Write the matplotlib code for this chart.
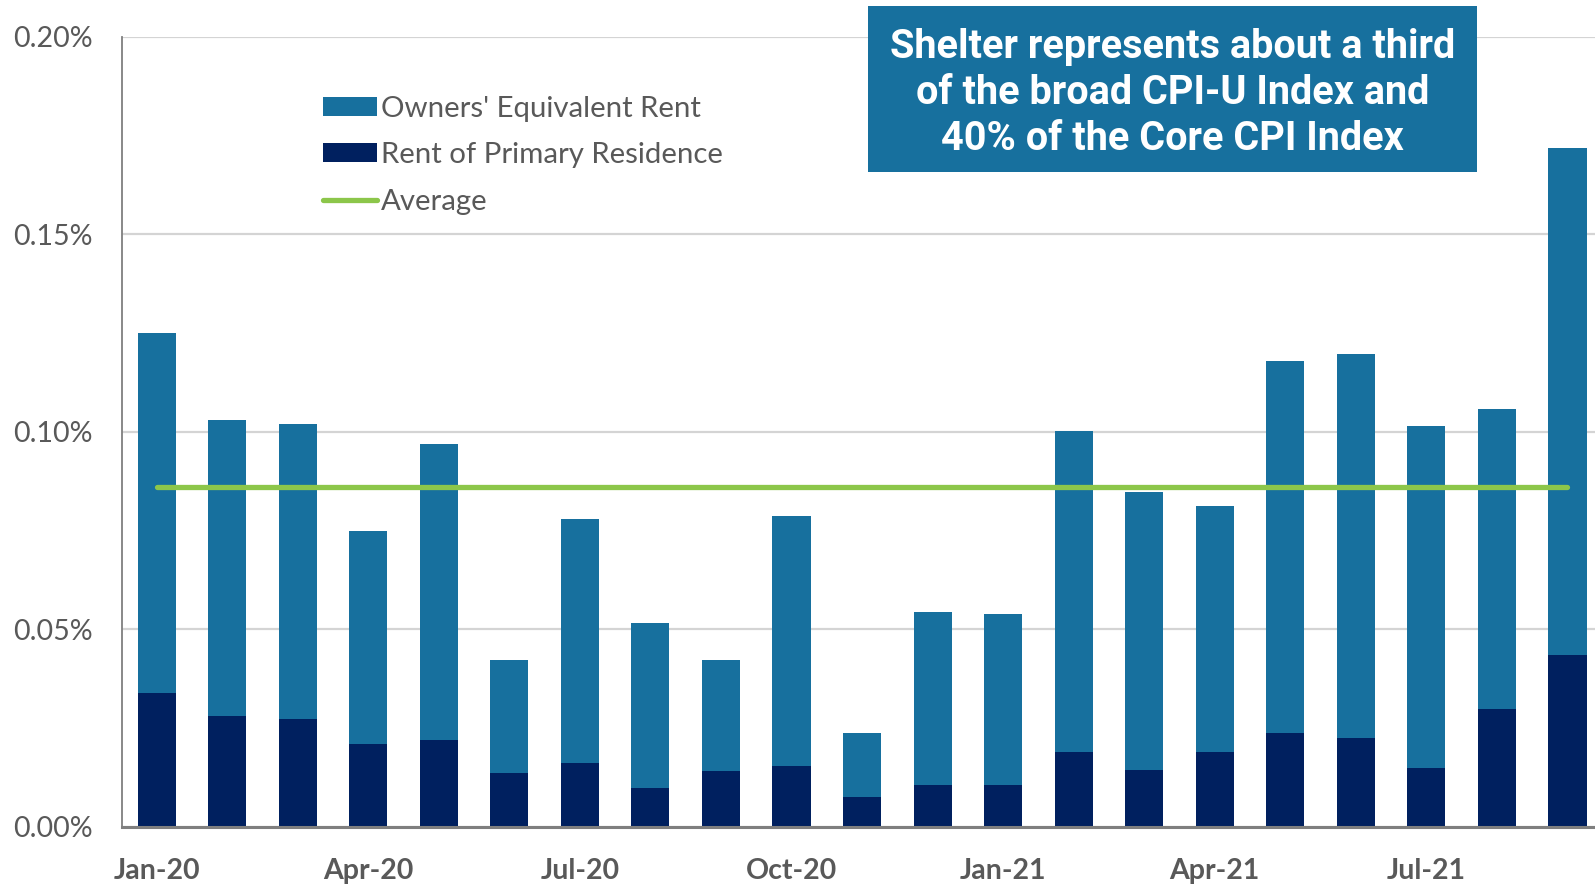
"""
Shelter CPI contribution chart: Owners' Equivalent Rent and Rent of Primary
Residence, stacked monthly, with the period average.
"""

import matplotlib
matplotlib.use("Agg")
import matplotlib.pyplot as plt
import matplotlib.patches as patches
from matplotlib.lines import Line2D
import numpy as np

# Monthly contributions (percentage points), Jan-20 .. Sep-21
months = ["Jan-20", "Feb-20", "Mar-20", "Apr-20", "May-20", "Jun-20", "Jul-20",
          "Aug-20", "Sep-20", "Oct-20", "Nov-20", "Dec-20", "Jan-21", "Feb-21",
          "Mar-21", "Apr-21", "May-21", "Jun-21", "Jul-21", "Aug-21", "Sep-21"]
rent_primary = [0.0340, 0.0280, 0.0273, 0.0211, 0.0221, 0.0136, 0.0162,
                0.0098, 0.0142, 0.0154, 0.0077, 0.0106, 0.0106, 0.0190,
                0.0144, 0.0190, 0.0237, 0.0226, 0.0149, 0.0299, 0.0435]
shelter_total = [0.1251, 0.1029, 0.1019, 0.0749, 0.0970, 0.0422, 0.0780,
                 0.0515, 0.0422, 0.0787, 0.0237, 0.0543, 0.0538, 0.1001,
                 0.0847, 0.0813, 0.1179, 0.1197, 0.1014, 0.1058, 0.1719]
owners_equiv = [t - r for t, r in zip(shelter_total, rent_primary)]
average = float(np.mean(shelter_total))

tick_labels = ["Jan-20", "Apr-20", "Jul-20", "Oct-20", "Jan-21", "Apr-21", "Jul-21"]
y_ticks = [0.0, 0.05, 0.10, 0.15, 0.20]

TEAL = "#17709E"
NAVY = "#00205F"
GREEN = "#8CC64A"
GREY_TEXT = "#595959"

plt.rcParams["font.family"] = ["Lato", "DejaVu Sans"]

fig = plt.figure(figsize=(15.95, 8.86), dpi=100)
ax = fig.add_axes([0.0765, 0.0666, 0.9235, 0.8921])

x = np.arange(len(months))
width = 0.54

ax.bar(x, rent_primary, width, color=NAVY, zorder=2)
ax.bar(x, owners_equiv, width, bottom=rent_primary, color=TEAL, zorder=2)
ax.plot([x[0], x[-1]], [average, average], color=GREEN, lw=3.8,
        solid_capstyle="round", zorder=3)

# Axes styling
ax.set_xlim(-0.49, 20.39)
ax.set_ylim(0, 0.20)
ax.set_yticks(y_ticks)
ax.set_yticklabels([f"{v:.2f}%" for v in y_ticks])
ax.set_xticks([months.index(m) for m in tick_labels])
ax.set_xticklabels(tick_labels, fontweight="bold")
ax.tick_params(axis="y", length=0, pad=21, labelsize=20.5, labelcolor=GREY_TEXT)
ax.tick_params(axis="x", length=0, pad=22, labelsize=20.5, labelcolor=GREY_TEXT)
ax.grid(axis="y", color="#D4D4D4", lw=1.6, zorder=0)
ax.set_axisbelow(True)

for side in ("top", "right"):
    ax.spines[side].set_visible(False)
ax.spines["left"].set_color("#7F7F7F")
ax.spines["left"].set_linewidth(1.3)
ax.spines["bottom"].set_color("#7F7F7F")
ax.spines["bottom"].set_linewidth(2.2)
ax.spines["bottom"].set_zorder(4)

# Legend
handles = [
    patches.Patch(facecolor=TEAL, label="Owners' Equivalent Rent"),
    patches.Patch(facecolor=NAVY, label="Rent of Primary Residence"),
    Line2D([0], [0], color=GREEN, lw=3.8, solid_capstyle="round", label="Average"),
]
leg = fig.legend(handles=handles, loc="upper left",
                 bbox_to_anchor=(323 / 1595, 1 - 96 / 886),
                 frameon=False, fontsize=21.2, handlelength=1.85,
                 handleheight=0.62, handletextpad=0.12, labelspacing=0.69,
                 borderpad=0, borderaxespad=0)
for t in leg.get_texts():
    t.set_color(GREY_TEXT)

# Callout box
box = patches.Rectangle((868 / 1595, 1 - 172 / 886), 609 / 1595, 166 / 886,
                        transform=fig.transFigure, facecolor=TEAL,
                        edgecolor="none", zorder=5)
fig.patches.append(box)
fig.text(1172.5 / 1595, 1 - 93 / 886,
         "Shelter represents about a third\nof the broad CPI-U Index and\n40% of the Core CPI Index",
         ha="center", va="center", color="white", fontsize=28.5,
         fontweight="bold", family=["Roboto", "DejaVu Sans"],
         linespacing=1.25, zorder=6)

fig.savefig("out.png", dpi=100)
